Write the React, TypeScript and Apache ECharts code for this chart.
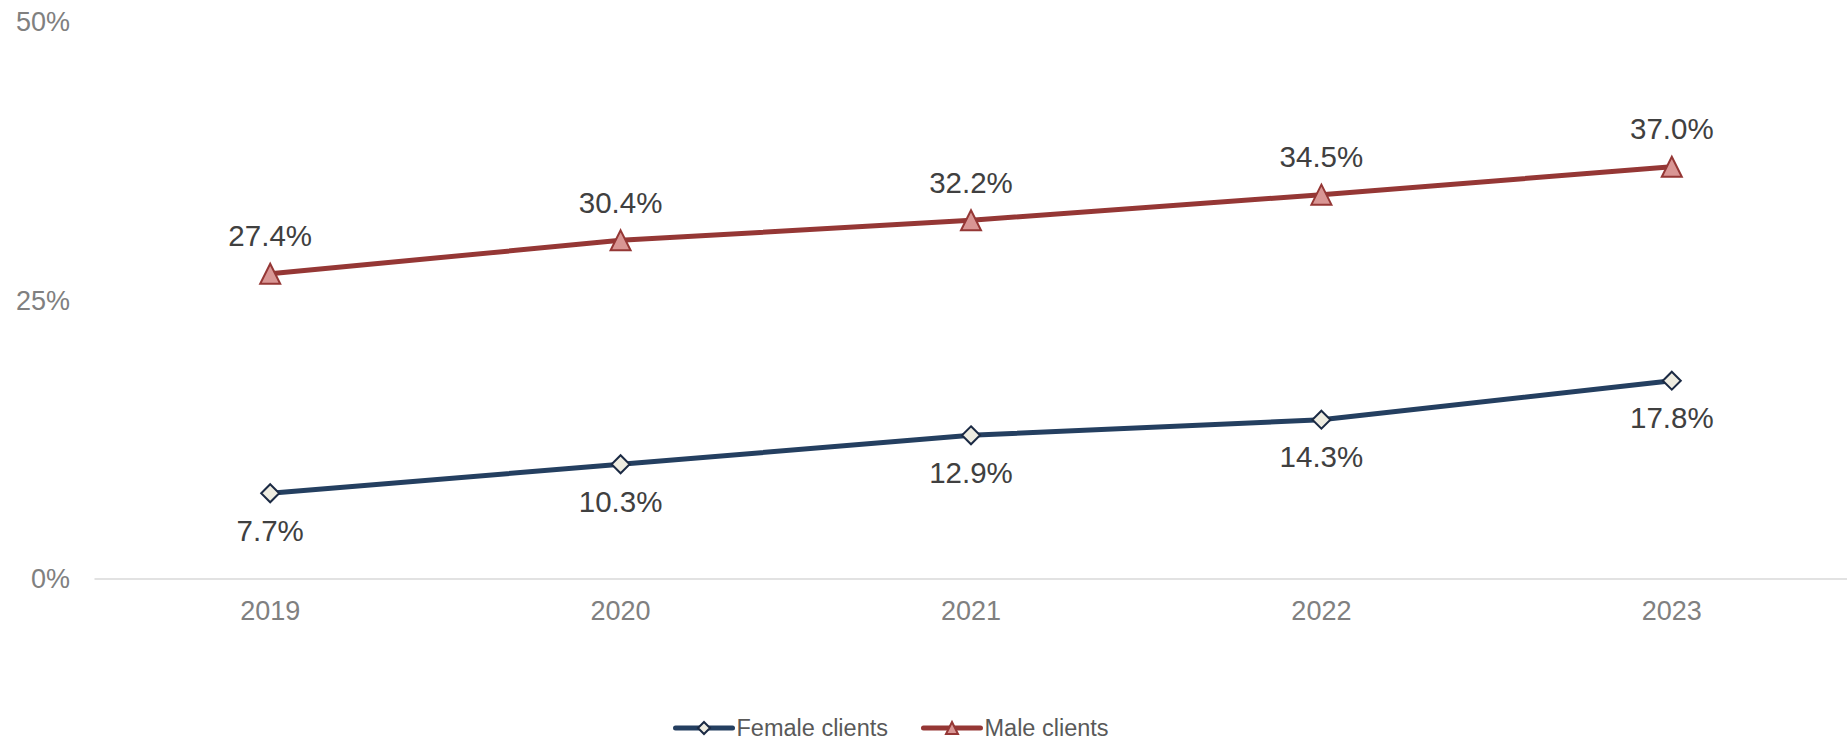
import React, { useEffect, useRef } from "react";
import * as echarts from "echarts";

const categories = ["2019", "2020", "2021", "2022", "2023"];
const femaleClients = [7.7, 10.3, 12.9, 14.3, 17.8];
const maleClients = [27.4, 30.4, 32.2, 34.5, 37.0];
const yTicks = { min: 0, max: 50, interval: 25 };

const FONT = "'Liberation Sans', Arial, sans-serif";

export default function App() {
  const ref = useRef<HTMLDivElement>(null);
  useEffect(() => {
    if (!ref.current) return;
    const chart = echarts.init(ref.current, undefined, { renderer: "svg" });
    chart.setOption({
      animation: false,
      backgroundColor: "#ffffff",
      textStyle: { fontFamily: FONT },
      grid: { left: 95, right: 0, top: 22, bottom: 163, containLabel: false },
      legend: {
        top: 716,
        left: 673,
        padding: 0,
        itemWidth: 57,
        itemHeight: 15,
        itemGap: 33,
        lineStyle: { width: 5, cap: "round" },
        textStyle: { fontFamily: FONT, fontSize: 23.5, color: "#595959", lineHeight: 24, padding: [0, 0, 0, -1] },
        data: ["Female clients", "Male clients"],
      },
      xAxis: {
        type: "category",
        data: categories,
        boundaryGap: true,
        axisLine: { show: true, lineStyle: { color: "#D9D9D9", width: 1.5 } },
        axisTick: { show: false },
        axisLabel: { color: "#808080", fontSize: 27, fontFamily: FONT, margin: 18 },
      },
      yAxis: {
        type: "value",
        min: yTicks.min,
        max: yTicks.max,
        interval: yTicks.interval,
        splitLine: { show: false },
        axisLine: { show: false },
        axisTick: { show: false },
        axisLabel: {
          color: "#808080",
          fontSize: 27,
          fontFamily: FONT,
          margin: 25,
          formatter: (v: number) => v + "%",
        },
      },
      series: [
        {
          name: "Female clients",
          type: "line",
          data: femaleClients,
          symbol: "diamond",
          symbolSize: 18,
          lineStyle: { color: "#243F60", width: 5 },
          itemStyle: { color: "#EEECE1", borderColor: "#1B2A44", borderWidth: 2 },
          label: {
            show: true,
            position: "bottom",
            distance: 12,
            color: "#404040",
            fontSize: 29.5,
            fontFamily: FONT,
            formatter: (p: any) => p.value.toFixed(1) + "%",
          },
        },
        {
          name: "Male clients",
          type: "line",
          data: maleClients,
          symbol: "triangle",
          symbolSize: 20,
          lineStyle: { color: "#953735", width: 5 },
          itemStyle: { color: "#D99694", borderColor: "#953735", borderWidth: 2 },
          label: {
            show: true,
            position: "top",
            distance: 12,
            color: "#404040",
            fontSize: 29.5,
            fontFamily: FONT,
            formatter: (p: any) => p.value.toFixed(1) + "%",
          },
        },
      ],
    });
    return () => chart.dispose();
  }, []);
  return (
    <div
      ref={ref}
      style={{ position: "fixed", left: 0, top: 0, width: 1847, height: 742 }}
    />
  );
}
